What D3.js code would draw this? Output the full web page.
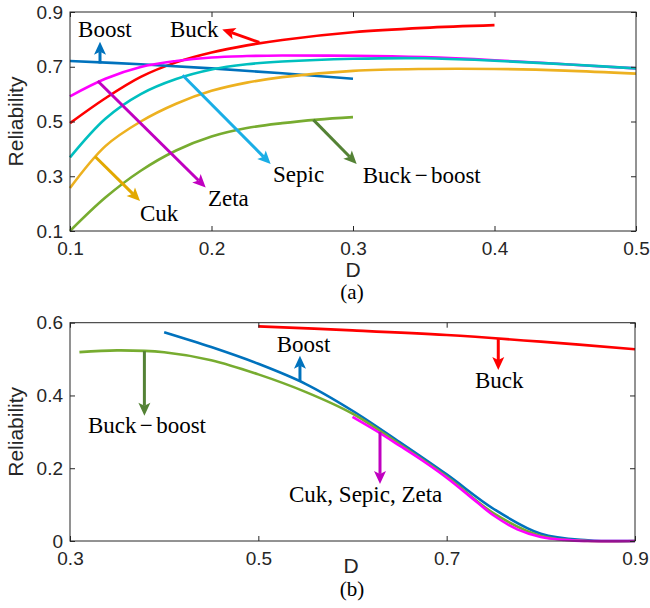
<!DOCTYPE html>
<html><head><meta charset="utf-8">
<script src="https://cdn.jsdelivr.net/npm/d3@7"></script>
<style>body{margin:0;background:#fff} svg{display:block}</style>
</head><body>
<svg id="chart" width="650" height="608"></svg>
<script>
// ---------- Panel (a) data ----------
const aD = [0.1, 0.125, 0.15, 0.175, 0.2, 0.225, 0.25, 0.3, 0.35, 0.4, 0.45, 0.5];
const aZeta  = [0.592, 0.656, 0.699, 0.721, 0.734, 0.739, 0.741, 0.740, 0.735, 0.724, 0.709, 0.694];
const aSepic = [0.369, 0.510, 0.600, 0.655, 0.690, 0.709, 0.719, 0.729, 0.731, 0.722, 0.709, 0.694];
const aCuk   = [0.257, 0.410, 0.500, 0.565, 0.612, 0.642, 0.662, 0.685, 0.692, 0.692, 0.686, 0.675];
const aBuckD = [0.1, 0.125, 0.15, 0.175, 0.2, 0.225, 0.25, 0.3, 0.35, 0.4];
const aBuck  = [0.494, 0.585, 0.663, 0.716, 0.752, 0.778, 0.798, 0.826, 0.842, 0.852];
const aBoostD = [0.1, 0.15, 0.2, 0.25, 0.3];
const aBoost  = [0.721, 0.709, 0.694, 0.676, 0.656];
const aBBD = [0.1, 0.125, 0.15, 0.175, 0.2, 0.225, 0.25, 0.275, 0.3];
const aBB  = [0.100, 0.222, 0.320, 0.394, 0.445, 0.476, 0.494, 0.507, 0.516];
const aXTicks = [0.1, 0.2, 0.3, 0.4, 0.5];
const aYTicks = [0.1, 0.3, 0.5, 0.7, 0.9];

// ---------- Panel (b) data ----------
const bBuckD = [0.5, 0.6, 0.7, 0.8, 0.9];
const bBuck  = [0.590, 0.579, 0.566, 0.548, 0.527];
const bBoostD = [0.4, 0.45, 0.5, 0.55, 0.6, 0.65, 0.7, 0.75, 0.8, 0.85, 0.9];
const bBoost  = [0.574, 0.533, 0.487, 0.432, 0.358, 0.272, 0.183, 0.088, 0.020, 0.002, 0.0];
const bBBD = [0.31, 0.35, 0.4, 0.45, 0.5, 0.55, 0.6, 0.65, 0.7, 0.75, 0.8, 0.85, 0.9];
const bBB  = [0.519, 0.524, 0.519, 0.497, 0.458, 0.410, 0.350, 0.266, 0.177, 0.076, 0.014, 0.0, 0.0];
const bCSZD = [0.6, 0.625, 0.65, 0.675, 0.7, 0.725, 0.75, 0.775, 0.8, 0.825, 0.85, 0.9];
const bCSZ  = [0.341, 0.303, 0.262, 0.220, 0.174, 0.122, 0.070, 0.032, 0.011, 0.003, 0.0, 0.0];
const bXTicks = [0.3, 0.5, 0.7, 0.9];
const bYTicks = [0, 0.2, 0.4, 0.6];

// ---------- annotations (data coordinates) ----------
const aArrows = [
  {from:[0.1212,0.712], to:[0.1212,0.791], color:"#0072BD"},
  {from:[0.2338,0.789], to:[0.2076,0.8365], color:"#FF0000"},
  {from:[0.1196,0.648], to:[0.1959,0.259], color:"#C000C0"},
  {from:[0.1796,0.669], to:[0.2418,0.345], color:"#1AAEE6"},
  {from:[0.1177,0.372], to:[0.1495,0.210], color:"#E2A800"},
  {from:[0.2720,0.506], to:[0.3026,0.345], color:"#548235"}
];
const aLabels = [
  {text:["Boost"], at:[0.1057,0.8094]},
  {text:["Buck"], at:[0.1707,0.8094]},
  {text:["Zeta"], at:[0.1975,0.1917]},
  {text:["Sepic"], at:[0.2435,0.2773]},
  {text:["Cuk"], at:[0.1495,0.1367]},
  {text:["Buck","\u2212","boost"], at:[0.3069,0.2736]}
];
const bArrows = [
  {from:[0.379,0.522], to:[0.379,0.344], color:"#548235"},
  {from:[0.5442,0.440], to:[0.5442,0.509], color:"#0072BD"},
  {from:[0.7548,0.557], to:[0.7548,0.470], color:"#FF0000"},
  {from:[0.6292,0.300], to:[0.6292,0.157], color:"#C000C0"}
];
const bLabels = [
  {text:["Buck","\u2212","boost"], at:[0.3191,0.2977]},
  {text:["Boost"], at:[0.5195,0.5203]},
  {text:["Buck"], at:[0.7301,0.4206]},
  {text:["Cuk, Sepic, Zeta"], at:[0.5326,0.108]}
];

const svg = d3.select("#chart");
svg.append("rect").attr("width",650).attr("height",608).attr("fill","#fff");

const AX = "#262626";
const SANS = "'Liberation Sans', Arial, Helvetica, sans-serif";
const SERIF = "'Liberation Serif', 'Times New Roman', serif";

function panel(cfg) {
  const x = d3.scaleLinear().domain(cfg.xd).range([cfg.left, cfg.right]);
  const y = d3.scaleLinear().domain(cfg.yd).range([cfg.bottom, cfg.top]);
  const g = svg.append("g");

  // series
  const line = d3.line().x(d => x(d[0])).y(d => y(d[1])).curve(d3.curveCatmullRom.alpha(0.5));
  cfg.series.forEach(s => {
    const pts = s.d.map((dv, i) => [dv, s.v[i]]);
    g.append("path").attr("d", line(pts)).attr("fill","none")
      .attr("stroke", s.color).attr("stroke-width", 2.6)
      .attr("stroke-linejoin","round").attr("stroke-linecap","butt");
  });

  // axes
  const fmt = d => (d === 0 ? "0" : d3.format(".1f")(d));
  const styleAxis = (sel, showText) => {
    sel.select(".domain").remove();
    sel.selectAll(".tick line").attr("stroke", AX).attr("stroke-width", 1);
    sel.selectAll(".tick text").attr("fill", AX)
      .style("font-family", SANS).style("font-size", "19px");
    if (!showText) sel.selectAll(".tick text").remove();
  };
  g.append("g").attr("transform", `translate(0,${cfg.bottom})`)
    .call(d3.axisBottom(x).tickValues(cfg.xt).tickFormat(fmt).tickSizeInner(-5).tickSizeOuter(0).tickPadding(11))
    .call(s => styleAxis(s, true));
  g.append("g").attr("transform", `translate(0,${cfg.top})`)
    .call(d3.axisTop(x).tickValues(cfg.xt).tickSizeInner(-5).tickSizeOuter(0))
    .call(s => styleAxis(s, false));
  g.append("g").attr("transform", `translate(${cfg.left},0)`)
    .call(d3.axisLeft(y).tickValues(cfg.yt).tickFormat(fmt).tickSizeInner(-5).tickSizeOuter(0).tickPadding(7))
    .call(s => styleAxis(s, true));
  g.append("g").attr("transform", `translate(${cfg.right},0)`)
    .call(d3.axisRight(y).tickValues(cfg.yt).tickSizeInner(-5).tickSizeOuter(0))
    .call(s => styleAxis(s, false));
  g.append("rect").attr("x", cfg.left).attr("y", cfg.top)
    .attr("width", cfg.right - cfg.left).attr("height", cfg.bottom - cfg.top)
    .attr("fill","none").attr("stroke", AX).attr("stroke-width", 1);

  // axis labels
  g.append("text").attr("x", cfg.xlab[0]).attr("y", cfg.xlab[1])
    .attr("text-anchor","middle").attr("fill", AX)
    .style("font-family", SANS).style("font-size","21px").text("D");
  g.append("text").attr("transform", `translate(23,${(cfg.top+cfg.bottom)/2}) rotate(-90)`)
    .attr("text-anchor","middle").attr("fill", AX)
    .style("font-family", SANS).style("font-size","21px").text("Reliability");
  g.append("text").attr("x", 352).attr("y", cfg.cap)
    .attr("text-anchor","middle").attr("fill","#000")
    .style("font-family", SERIF).style("font-size","21px").text(cfg.capText);

  // arrows
  cfg.arrows.forEach(a => {
    const x1 = x(a.from[0]), y1 = y(a.from[1]), x2 = x(a.to[0]), y2 = y(a.to[1]);
    const dx = x2 - x1, dy = y2 - y1, L = Math.hypot(dx, dy);
    const ux = dx / L, uy = dy / L, hl = 13, hw = 6;
    const bx = x2 - ux * hl, by = y2 - uy * hl;
    g.append("line").attr("x1", x1).attr("y1", y1)
      .attr("x2", bx + ux * 3).attr("y2", by + uy * 3)
      .attr("stroke", a.color).attr("stroke-width", 3);
    g.append("polygon").attr("fill", a.color).attr("points", [
      [x2, y2], [bx - uy * hw, by + ux * hw], [bx + ux * 3, by + uy * 3], [bx + uy * hw, by - ux * hw]
    ].map(p => p.join(",")).join(" "));
  });

  // labels
  cfg.labels.forEach(l => {
    const t = g.append("text").attr("x", x(l.at[0])).attr("y", y(l.at[1]))
      .attr("fill","#000").style("font-family", SERIF).style("font-size","23px");
    l.text.forEach((s, i) => {
      t.append("tspan").attr("dx", i === 0 ? 0 : 3.3).text(s);
    });
  });
}

panel({
  xd:[0.1,0.5], yd:[0.1,0.9], left:70, right:636, top:12, bottom:231,
  xt:aXTicks, yt:aYTicks, xlab:[353,277], cap:299, capText:"(a)",
  series:[
    {d:aBuckD, v:aBuck, color:"#FF0000"},
    {d:aBoostD, v:aBoost, color:"#0072BD"},
    {d:aBBD, v:aBB, color:"#77AC30"},
    {d:aD, v:aZeta, color:"#FF00FF"},
    {d:aD, v:aCuk, color:"#EDB120"},
    {d:aD, v:aSepic, color:"#00BFBF"}
  ],
  arrows:aArrows, labels:aLabels
});

panel({
  xd:[0.3,0.9], yd:[0,0.6], left:70, right:635, top:322.7, bottom:541,
  xt:bXTicks, yt:bYTicks, xlab:[351,573], cap:596, capText:"(b)",
  series:[
    {d:bBuckD, v:bBuck, color:"#FF0000"},
    {d:bBoostD, v:bBoost, color:"#0072BD"},
    {d:bBBD, v:bBB, color:"#77AC30"},
    {d:bCSZD, v:bCSZ, color:"#FF00FF"}
  ],
  arrows:bArrows, labels:bLabels
});
</script>
</body></html>
